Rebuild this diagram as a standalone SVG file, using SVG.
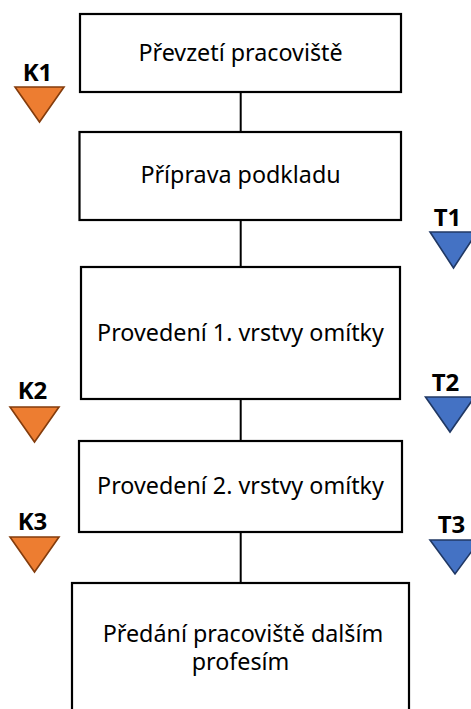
<svg xmlns="http://www.w3.org/2000/svg" width="471" height="709" viewBox="0 0 471 709">
<style>
.box{fill:#fff;stroke:#000;stroke-width:2.2}
.lbl{font-family:"Noto Sans","Liberation Sans",sans-serif;font-size:23.3px;fill:#000;text-anchor:middle}
.tag{font-family:"Noto Sans","Liberation Sans",sans-serif;font-size:24px;font-weight:bold;fill:#000;text-anchor:middle}
.k{fill:#ED7D31;stroke:#843C0C;stroke-width:1.6;stroke-linejoin:miter}
.t{fill:#4472C4;stroke:#203864;stroke-width:1.6;stroke-linejoin:miter}
.conn{stroke:#000;stroke-width:2;fill:none}
</style>
<rect width="471" height="709" fill="#fff"/>
<g id="connectors">
<line class="conn" x1="240.7" y1="92" x2="240.7" y2="132"/>
<line class="conn" x1="240.7" y1="220" x2="240.7" y2="267"/>
<line class="conn" x1="240.7" y1="399" x2="240.7" y2="441"/>
<line class="conn" x1="240.7" y1="532" x2="240.7" y2="583"/>
</g>
<g id="n1"><rect class="box" x="80" y="14" width="321" height="78"/><text class="lbl" x="240.5" y="61">Převzetí pracoviště</text></g>
<g id="n2"><rect class="box" x="79.5" y="132" width="321.5" height="88"/><text class="lbl" x="240.5" y="183">Příprava podkladu</text></g>
<g id="n3"><rect class="box" x="81" y="267" width="319" height="132"/><text class="lbl" x="240.5" y="341">Provedení 1. vrstvy omítky</text></g>
<g id="n4"><rect class="box" x="79" y="441" width="323" height="91"/><text class="lbl" x="240.5" y="494">Provedení 2. vrstvy omítky</text></g>
<g id="n5"><rect class="box" x="72" y="583" width="337" height="140"/><text class="lbl" x="243" y="642">Předání pracoviště dalším</text><text class="lbl" x="240.5" y="670">profesím</text></g>
<g id="K1"><text class="tag" x="37.5" y="81">K1</text><polygon class="k" points="15,87 64,87 39.5,122"/></g>
<g id="K2"><text class="tag" x="32.5" y="399">K2</text><polygon class="k" points="10,407 59,407 34.5,442"/></g>
<g id="K3"><text class="tag" x="32.5" y="530">K3</text><polygon class="k" points="10,537 59,537 34.5,572"/></g>
<g id="T1"><text class="tag" x="447.5" y="226">T1</text><polygon class="t" points="430,232 477,232 453.5,268"/></g>
<g id="T2"><text class="tag" x="445.5" y="391">T2</text><polygon class="t" points="425.5,397 474.5,397 450,432"/></g>
<g id="T3"><text class="tag" x="451.5" y="533">T3</text><polygon class="t" points="430,540 480,540 455,574"/></g>
</svg>
